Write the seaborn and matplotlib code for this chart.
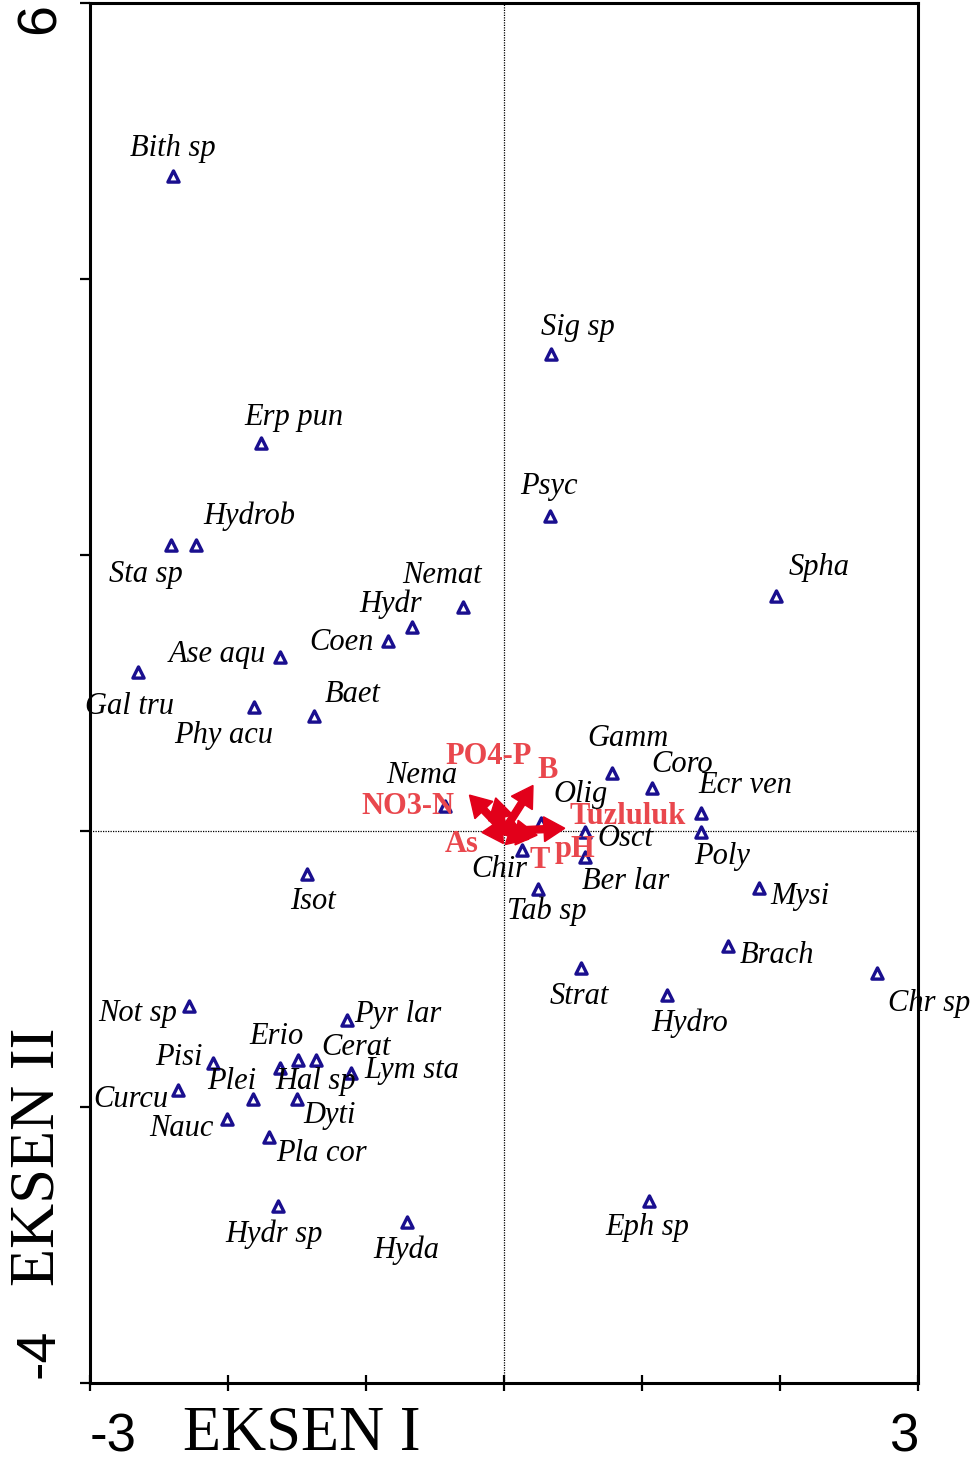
import numpy as np
import pandas as pd
import matplotlib
matplotlib.use("Agg")
import matplotlib.pyplot as plt
import seaborn as sns

# Species scores (EKSEN I, EKSEN II)
species = ["Bith sp", "Sig sp", "Erp pun", "Psyc", "Hydrob", "Sta sp", "Spha", "Nemat",
           "Hydr", "Coen", "Ase aqu", "Gal tru", "Phy acu", "Baet", "Gamm", "Coro",
           "Ecr ven", "Nema", "Olig", "Osct", "Poly", "Chir", "Ber lar", "Tab sp",
           "Mysi", "Isot", "Brach", "Strat", "Chr sp", "Hydro", "Not sp", "Pyr lar",
           "Erio", "Cerat", "Lym sta", "Hal sp", "Pisi", "Plei", "Curcu", "Dyti",
           "Nauc", "Pla cor", "Hydr sp", "Hyda", "Eph sp"]
ax1 = [-2.40, 0.34, -1.76, 0.33, -2.23, -2.41, 1.97, -0.30,
       -0.67, -0.84, -1.62, -2.65, -1.81, -1.38, 0.78, 1.07,
       1.43, -0.43, 0.27, 0.59, 1.43, 0.13, 0.59, 0.25,
       1.85, -1.43, 1.62, 0.56, 2.70, 1.18, -2.28, -1.14,
       -1.49, -1.36, -1.11, -1.62, -2.11, -1.82, -2.36, -1.50,
       -2.01, -1.70, -1.64, -0.70, 1.05]
ax2 = [4.75, 3.46, 2.81, 2.28, 2.07, 2.07, 1.70, 1.62,
       1.48, 1.38, 1.26, 1.15, 0.90, 0.83, 0.42, 0.31,
       0.13, 0.18, 0.06, -0.01, -0.01, -0.14, -0.19, -0.42,
       -0.41, -0.31, -0.83, -0.99, -1.03, -1.19, -1.27, -1.37,
       -1.66, -1.66, -1.75, -1.72, -1.68, -1.94, -1.88, -1.94,
       -2.09, -2.22, -2.72, -2.83, -2.68]

# label offsets from marker (pixels, y up)
label_dx = [0, 27, 33, -1, 53, -26, 43, -21,
            -21, -47, -63, -9, -31, 39, 16, 30,
            44, -23, 39, 40, 21, -23, 40, 8,
            41, 6, 49, -2, 53, 23, -52, 51,
            -22, 40, 61, 35, -34, -21, -47, 33,
            -45, 52, -4, -1, -2]
label_dy = [27, 26, 26, 30, 29, -29, 29, 32,
            23, -2, 3, -34, -29, 22, 35, 24,
            28, 31, 28, -6, -24, -19, -24, -22,
            -9, -28, -10, -29, -30, -28, -7, 6,
            24, 13, 2, -13, 5, 17, -9, -17,
            -9, -16, -28, -29, -27]

# Environmental variable arrows
env_names = ["PO4-P", "B", "NO3-N", "Tuzluluk", "As", "T", "pH"]
env_x = [-0.06, 0.21, -0.25, 0.44, -0.16, 0.18, 0.24]
env_y = [0.24, 0.33, 0.26, 0.02, -0.01, -0.06, -0.03]
env_lab_dx = [-15, 44, -96, 124, -42, 36, 71]
env_lab_dy = [75, 61, 25, 15, -14, -29, -18]

df = pd.DataFrame({"species": species, "x": ax1, "y": ax2})

W, H = 979, 1463
fig = plt.figure(figsize=(W / 100, H / 100), dpi=100)
ax = fig.add_axes([90 / W, 80 / H, 828 / W, 1380 / H])

MARK = "#1a0f8f"
ARROW = "#e2001a"
ENVTXT = "#e9474d"

ax.axhline(0, color="black", lw=0.9, ls=(0, (1, 1)), zorder=1)
ax.axvline(0, color="black", lw=0.9, ls=(0, (1, 1)), zorder=1)

sns.scatterplot(data=df, x="x", y="y", marker="^", s=65, facecolor="white",
                edgecolor=MARK, linewidth=2.4, ax=ax, zorder=3)

for name, x, y, dx, dy in zip(species, ax1, ax2, label_dx, label_dy):
    ax.annotate(name, (x, y), xytext=(dx, dy), textcoords="offset pixels",
                ha="center", va="center", fontsize=22, fontstyle="italic",
                family="Liberation Serif", color="black", zorder=4)

for name, x, y, dx, dy in zip(env_names, env_x, env_y, env_lab_dx, env_lab_dy):
    ax.arrow(0, 0, x, y, width=0.05, head_width=0.18, head_length=0.15,
             length_includes_head=True, fc=ARROW, ec=ARROW, zorder=5)
    ax.annotate(name, (0, 0), xytext=(dx, dy), textcoords="offset pixels",
                ha="center", va="center", fontsize=22, fontweight="bold",
                family="Liberation Serif", color=ENVTXT, zorder=6)

ax.set_xlim(-3, 3)
ax.set_ylim(-4, 6)
ax.set_xticks(np.arange(-3, 4, 1))
ax.set_yticks(np.arange(-4, 7, 2))
ax.set_xticklabels([])
ax.set_yticklabels([])
ax.set_xlabel("")
ax.set_ylabel("")
ax.tick_params(axis="x", direction="inout", length=12, width=1.6, bottom=True)
ax.tick_params(axis="y", direction="out", length=7, width=1.6, left=True)
for sp in ax.spines.values():
    sp.set_linewidth(2.2)
    sp.set_color("black")
    sp.set_visible(True)

# axis end labels and titles
fig.text(90 / W, 1 - 1451 / H, "-3", ha="left", va="baseline", fontsize=38,
         family="Liberation Sans")
fig.text(918 / W, 1 - 1451 / H, "3", ha="right", va="baseline", fontsize=38,
         family="Liberation Sans")
fig.text(183 / W, 1 - 1450 / H, "EKSEN I", ha="left", va="baseline", fontsize=45,
         family="Liberation Serif")
fig.text(67 / W, 1 - 3 / H, "6", ha="right", va="top", rotation=90, fontsize=40,
         family="Liberation Sans")
fig.text(66 / W, 1 - 1378 / H, "-4", ha="right", va="bottom", rotation=90, fontsize=40,
         family="Liberation Sans")
fig.text(68 / W, 1 - 1286 / H, "EKSEN II", ha="right", va="bottom", rotation=90,
         fontsize=45, family="Liberation Serif")

fig.savefig("out.png", dpi=100)
